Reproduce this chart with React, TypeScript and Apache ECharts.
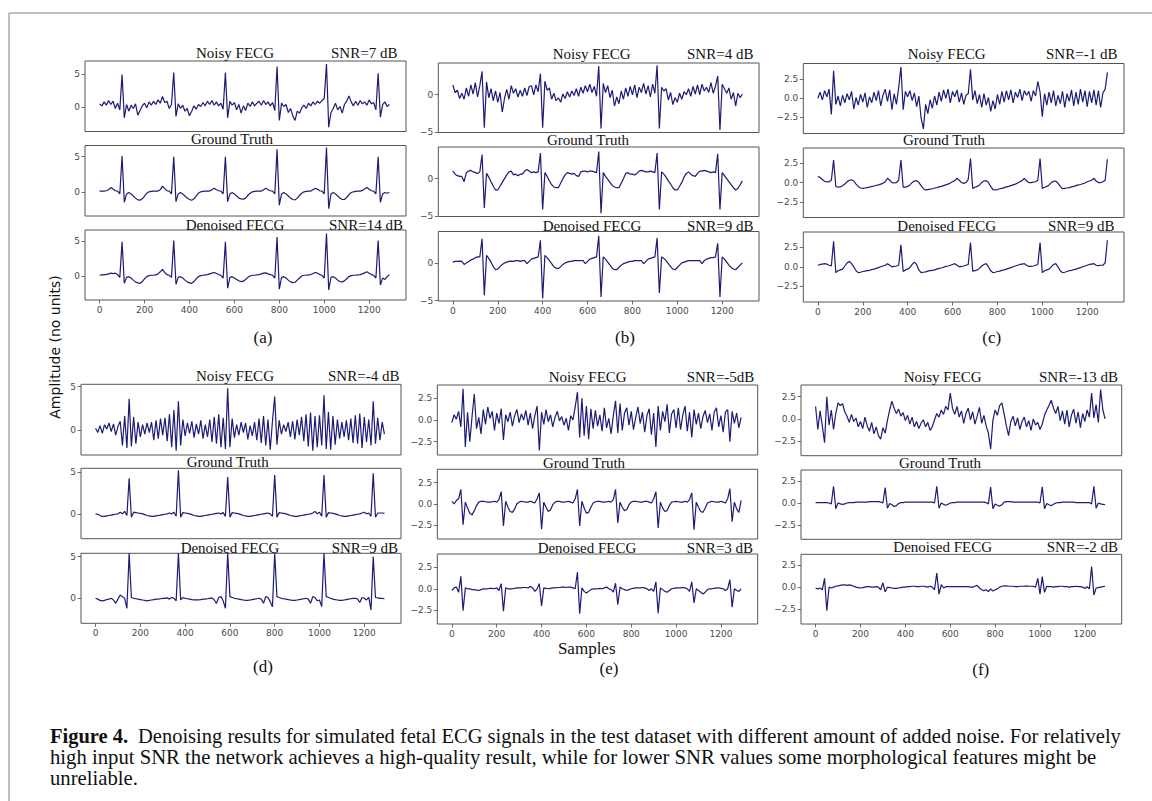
import React, { useEffect, useRef } from "react";
import * as echarts from "echarts";

// sample spacing of the stored values (samples 0,10,20,...)
const X_STEP = 10;
const X_TICKS = [0, 200, 400, 600, 800, 1000, 1200];
const X_MIN = -65;
const X_MAX = 1364;

// ---------- (a) ----------
const aNoisy = [0.5,0.2,0.8,0.3,1.0,0.4,0.9,-0.2,0.6,-0.4,4.9,-1.6,0.4,-0.6,0.3,-0.2,0.5,-1.2,-0.5,0.2,0.6,-0.1,0.8,0.3,0.9,0.4,1.1,0.6,1.6,0.7,0.9,-0.2,0.4,5.2,-1.4,0.5,-0.2,0.3,-0.6,-0.2,-1.3,-0.6,0.2,-0.3,0.4,0.1,0.7,0.2,0.9,0.4,1.0,0.3,0.8,0.2,0.6,-0.3,5.2,-1.6,0.9,0.3,0.7,-0.4,0.4,-0.9,0.2,-0.5,0.6,0.1,0.8,0.2,0.6,0.9,0.3,1.0,0.4,0.8,0.2,0.7,-0.5,6.1,-2.0,0.6,0.1,0.4,-0.8,-0.2,-1.3,-2.0,-0.6,-0.9,-0.1,0.3,-0.2,0.6,0.2,0.8,0.4,0.9,0.6,1.0,1.3,6.5,-3.0,-0.8,-0.2,0.6,-0.4,0.1,-0.9,0.4,0.9,1.7,0.8,0.2,0.9,0.3,1.0,0.5,0.8,0.3,1.1,0.5,0.7,-0.4,5.1,-1.5,0.4,0.8,0.1,0.4];
const aTruth = [0.1,0.1,0.1,0.15,0.3,0.6,0.4,0.15,0.1,-0.3,5.1,-1.5,-0.3,-0.1,-0.3,-0.6,-0.9,-1.15,-1.2,-1.0,-0.6,-0.2,0.0,0.05,0.1,0.1,0.1,0.3,0.8,0.45,0.15,0.1,-0.3,5.0,-1.4,-0.3,-0.1,-0.3,-0.6,-0.9,-1.1,-1.2,-1.0,-0.6,-0.2,0.0,0.05,0.1,0.1,0.1,0.3,0.5,0.3,0.15,0.1,-0.3,5.0,-1.4,-0.3,-0.1,-0.3,-0.6,-0.9,-1.0,-1.05,-0.9,-0.5,-0.2,0.0,0.05,0.1,0.1,0.1,0.3,0.5,0.3,0.15,0.1,-0.3,6.05,-1.9,-0.3,-0.1,-0.3,-0.6,-0.9,-1.1,-1.15,-0.9,-0.5,-0.2,0.0,0.05,0.1,0.1,0.3,0.5,0.35,0.15,0.1,-0.3,6.3,-2.4,-0.3,-0.1,-0.3,-0.6,-0.9,-1.1,-1.1,-0.8,-0.4,-0.1,0.0,0.05,0.1,0.1,0.2,0.4,0.6,0.35,0.15,0.1,-0.3,5.0,-1.5,-0.3,-0.1,-0.2,-0.1];
const aDenoised = [0.1,0.15,0.2,0.2,0.3,0.4,0.35,0.4,0.2,-0.2,4.9,-1.05,-0.2,-0.1,-0.3,-0.6,-0.85,-1.0,-1.05,-0.8,-0.4,-0.1,0.05,0.1,0.1,0.15,0.3,0.6,0.95,0.5,0.2,0.1,-0.2,5.1,-1.2,-0.2,-0.1,-0.3,-0.6,-0.85,-1.0,-1.05,-0.8,-0.4,-0.1,0.05,0.1,0.15,0.2,0.3,0.4,0.5,0.35,0.2,0.1,-0.3,4.9,-1.75,-0.2,-0.1,-0.3,-0.5,-0.7,-0.8,-0.75,-0.5,-0.2,0.0,0.1,0.1,0.15,0.2,0.3,0.4,0.45,0.3,0.2,0.1,-0.3,5.6,-1.9,-0.2,-0.1,-0.3,-0.6,-0.85,-0.95,-0.9,-0.6,-0.3,0.0,0.1,0.1,0.15,0.2,0.35,0.5,0.4,0.2,0.1,-0.3,6.1,-2.0,-0.2,-0.1,-0.3,-0.6,-0.8,-0.85,-0.7,-0.4,-0.1,0.05,0.1,0.1,0.15,0.2,0.3,0.45,0.6,0.4,0.2,0.1,-0.3,5.1,-1.3,-0.3,-0.5,-0.1,0.2];

// ---------- (b) ----------
const bNoisy = [1.3,0.3,0.6,-0.5,0.2,-0.6,0.9,-0.2,1.3,0.1,1.6,-0.3,1.2,3.1,-4.4,1.7,-0.4,0.8,-0.8,0.5,-1.0,0.3,-2.3,-0.5,0.7,-0.6,1.2,0.2,0.8,-0.3,0.6,-0.2,0.9,-0.1,1.1,1.2,0.0,1.3,0.4,2.8,-4.4,1.8,0.6,0.9,-0.6,0.2,-0.8,-0.4,-1.0,0.1,-0.5,0.4,-0.3,0.5,-0.1,0.8,-0.2,1.0,0.2,1.2,0.4,1.4,0.3,1.1,-0.2,3.8,-4.5,1.5,0.3,1.2,-0.4,0.6,-1.5,-0.3,-1.2,0.5,-0.6,0.9,-0.2,1.1,0.0,1.3,-0.4,1.0,0.3,1.5,0.1,1.2,-0.3,1.4,0.2,3.9,-4.5,1.0,0.5,0.8,-0.7,0.3,-1.3,-0.4,-1.0,0.2,-0.6,0.4,0.0,0.8,-0.2,1.1,0.1,1.3,0.0,1.4,0.5,1.0,0.3,1.6,0.2,1.1,2.5,-4.7,1.4,0.8,0.2,0.9,-0.6,0.3,-1.5,0.2,-0.4,0.1];
const bTruth = [1.0,0.6,0.4,0.3,0.3,-0.4,0.8,1.0,1.1,0.9,0.8,0.7,0.9,3.2,-3.9,0.7,0.2,-0.4,-1.0,-1.5,-1.5,-1.0,-0.5,0.0,0.5,0.9,1.0,0.5,0.6,0.4,0.6,0.6,1.0,1.2,1.0,0.8,0.9,0.8,0.9,3.4,-4.1,0.8,0.3,-0.3,-0.8,-1.1,-1.2,-1.2,-0.6,0.0,0.5,0.8,0.7,0.6,0.7,0.4,0.3,0.9,1.0,1.0,0.9,1.0,1.0,0.9,0.8,3.6,-4.6,0.8,0.3,-0.1,-0.5,-0.9,-1.1,-1.2,-1.2,-0.6,0.0,0.7,0.8,0.6,0.6,0.5,0.7,1.0,1.1,1.0,0.9,0.9,1.0,0.9,0.8,3.4,-4.1,0.9,0.6,0.2,-0.3,-0.7,-1.2,-1.5,-1.5,-1.0,-0.5,0.2,0.7,0.9,0.6,0.4,0.3,0.7,1.0,1.0,1.1,1.0,0.9,0.8,0.9,0.8,3.3,-4.1,0.8,0.4,0.0,-0.4,-0.8,-1.2,-1.5,-1.3,-0.8,-0.3];
const bDenoised = [0.1,0.2,0.2,0.25,0.2,-0.2,0.0,0.2,0.4,0.5,0.7,0.8,0.8,3.2,-4.3,1.0,0.6,0.1,-0.5,-0.9,-0.8,-0.5,-0.2,0.0,0.1,0.2,0.25,0.2,0.3,0.3,0.2,0.3,0.3,-0.1,0.2,0.5,0.6,0.7,0.8,3.0,-4.7,1.0,0.7,0.3,-0.1,-0.5,-0.7,-0.75,-0.5,-0.2,0.0,0.1,0.2,0.2,0.3,0.3,0.3,0.3,0.3,-0.1,0.2,0.5,0.6,0.7,0.8,3.6,-4.5,0.8,0.5,0.1,-0.3,-0.7,-0.9,-0.9,-0.6,-0.3,-0.1,0.0,0.1,0.2,0.2,0.3,0.3,0.3,0.3,-0.1,0.2,0.5,0.6,0.7,0.8,3.3,-4.0,0.8,0.6,0.3,-0.1,-0.5,-0.8,-0.9,-0.6,-0.3,0.0,0.1,0.2,0.3,0.3,0.3,0.3,0.3,0.3,-0.1,0.3,0.5,0.6,0.7,0.7,0.8,2.6,-4.5,0.8,0.5,0.1,-0.3,-0.6,-0.8,-0.9,-0.6,-0.3,0.0];

// ---------- (c) ----------
const cNoisy = [0.0,0.8,-0.2,1.0,0.2,1.2,-2.1,3.6,-0.8,0.3,-1.0,0.4,-0.6,0.6,-0.2,0.9,-1.4,0.1,-0.9,0.5,-0.5,0.7,-1.2,0.2,-0.6,0.8,-0.3,1.0,-1.0,0.4,1.2,-0.4,1.1,-1.5,0.6,-0.8,1.4,4.1,-1.5,0.9,0.2,1.0,-0.3,0.7,-1.1,0.3,-2.6,-4.0,-0.8,-2.0,-0.2,-1.3,0.3,-0.9,0.8,-0.4,1.1,0.0,1.2,-0.6,0.9,0.2,1.1,-0.5,0.7,-0.8,0.4,0.6,3.8,-0.2,1.0,-0.7,0.5,-1.2,0.6,-0.9,0.1,-1.7,-0.3,-1.4,0.5,-0.8,0.9,-0.5,1.0,-0.2,1.1,-0.6,0.8,0.1,1.2,-0.3,1.0,0.4,0.9,-0.4,1.0,0.3,2.2,0.8,-2.4,0.6,-0.9,0.8,-0.6,1.0,-1.0,0.4,-0.7,0.9,-1.2,0.6,-0.4,1.1,-1.0,0.8,-0.8,1.2,-0.5,1.0,-1.1,0.9,-0.6,1.1,-0.9,1.0,-1.2,0.7,1.2,3.4];
const cTruth = [0.8,0.65,0.4,0.15,0.1,0.1,0.3,2.9,-0.5,-0.6,-0.55,-0.4,-0.2,0.1,0.3,0.35,0.2,-0.2,-0.5,-0.7,-0.75,-0.7,-0.65,-0.6,-0.5,-0.45,-0.35,-0.3,-0.2,-0.1,0.1,0.55,0.3,0.0,-0.05,0.0,0.3,2.9,-0.6,-0.6,-0.5,-0.3,0.0,0.2,0.25,0.0,-0.4,-0.8,-0.95,-0.9,-0.85,-0.8,-0.7,-0.65,-0.55,-0.5,-0.4,-0.3,-0.2,-0.05,0.1,0.25,0.55,0.3,0.0,-0.1,0.0,0.4,3.1,-0.75,-0.6,-0.5,-0.3,0.0,0.2,0.25,0.0,-0.5,-0.9,-0.95,-0.9,-0.8,-0.75,-0.65,-0.55,-0.5,-0.4,-0.3,-0.2,-0.05,0.1,0.25,0.55,0.2,0.0,0.0,0.05,0.1,0.3,3.1,-0.75,-0.6,-0.5,-0.3,0.0,0.15,0.2,-0.1,-0.5,-0.8,-0.75,-0.7,-0.65,-0.55,-0.5,-0.4,-0.3,-0.25,-0.15,-0.05,0.1,0.2,0.3,0.55,0.2,0.0,0.0,0.1,0.3,3.0];
const cDenoised = [0.2,0.3,0.35,0.4,0.35,0.2,0.1,3.25,-0.75,-0.5,-0.4,-0.3,0.1,0.5,0.7,0.4,0.0,-0.5,-0.75,-0.7,-0.6,-0.55,-0.5,-0.45,-0.35,-0.3,-0.2,-0.1,0.0,0.1,0.2,0.4,0.2,0.0,0.05,0.1,0.2,2.8,-0.6,-0.4,-0.3,-0.1,0.3,0.6,0.3,-0.4,-0.75,-0.7,-0.65,-0.55,-0.5,-0.45,-0.4,-0.3,-0.2,-0.15,-0.05,0.05,0.1,0.2,0.3,0.4,0.2,0.0,0.05,0.1,0.2,0.3,3.1,-0.55,-0.5,-0.4,-0.2,0.1,0.3,0.4,0.0,-0.5,-0.75,-0.7,-0.6,-0.55,-0.45,-0.4,-0.3,-0.2,-0.1,0.0,0.1,0.2,0.3,0.35,0.4,0.2,0.05,0.05,0.1,0.2,0.3,3.1,-0.75,-0.5,-0.4,-0.3,0.0,0.3,0.4,0.0,-0.5,-0.75,-0.7,-0.6,-0.5,-0.45,-0.35,-0.3,-0.2,-0.1,0.0,0.1,0.2,0.3,0.35,0.4,0.2,0.15,0.2,0.2,0.5,3.4];

// ---------- (d) ----------
const dNoisy = [0.2,-0.3,0.5,-0.4,0.6,0.1,0.8,-0.2,0.7,-0.6,0.4,1.0,-1.8,1.6,-2.1,3.6,-1.9,1.5,-1.6,0.9,-0.8,0.6,-0.5,0.8,-0.3,0.9,-1.2,1.1,-1.0,1.3,-0.6,1.4,-1.3,1.8,-2.0,2.3,-2.4,3.3,-1.8,1.2,-0.7,0.8,-0.4,1.0,-0.9,0.7,-0.5,1.1,-1.0,0.6,-0.8,1.2,-1.4,1.5,-1.6,1.8,-2.0,1.4,-2.2,4.8,-2.0,1.3,-0.9,0.6,-0.6,0.9,-0.3,0.8,-1.1,0.5,-0.7,0.9,-1.2,1.3,-1.5,1.6,-1.8,1.2,-2.3,1.0,3.85,-1.7,1.1,-0.5,0.6,-0.2,0.9,-0.8,1.0,-1.1,1.2,-0.6,1.5,-1.3,1.8,-1.9,2.0,-2.4,1.6,-2.0,1.7,-1.8,4.0,-2.2,2.1,-2.3,1.6,-1.7,1.2,-1.0,0.9,-0.8,1.1,-1.2,1.3,-1.5,1.7,-1.6,1.9,-2.1,1.5,-1.4,1.2,-1.8,3.3,-1.6,1.4,-1.2,0.9,-0.5];
const dTruth = [0.0,-0.05,-0.2,-0.3,-0.3,-0.25,-0.2,-0.15,-0.1,-0.05,0.0,0.2,0.0,0.3,-0.2,4.3,-0.4,0.2,0.15,0.1,0.05,0.0,-0.1,-0.2,-0.25,-0.3,-0.3,-0.25,-0.2,-0.15,-0.1,-0.05,0.0,0.1,0.0,0.2,-0.3,5.25,-0.4,0.15,0.1,0.05,0.0,-0.1,-0.2,-0.25,-0.3,-0.3,-0.25,-0.2,-0.15,-0.1,-0.05,0.0,0.05,0.1,0.0,0.15,-0.3,4.45,-0.4,0.15,0.1,0.05,0.0,-0.1,-0.2,-0.25,-0.3,-0.3,-0.25,-0.2,-0.15,-0.1,-0.05,0.0,0.05,0.1,0.0,-0.3,4.7,-0.4,0.15,0.1,0.05,0.0,-0.1,-0.2,-0.25,-0.3,-0.3,-0.25,-0.2,-0.15,-0.1,-0.05,0.0,0.1,0.3,0.0,0.2,-0.3,4.7,-0.4,0.15,0.1,0.05,0.0,-0.1,-0.2,-0.25,-0.3,-0.3,-0.25,-0.2,-0.15,-0.1,-0.05,0.0,0.1,0.2,0.0,0.1,-0.3,4.9,-0.4,0.1,0.1,0.1,0.05];
const dDenoised = [0.0,-0.1,-0.25,-0.3,-0.25,-0.15,-0.1,0.0,-0.2,-0.6,-0.1,0.4,0.2,0.0,-1.2,5.4,0.1,0.0,-0.05,-0.1,-0.15,-0.2,-0.25,-0.3,-0.25,-0.2,-0.15,-0.1,-0.1,-0.05,0.0,0.0,0.05,-0.1,0.1,0.0,-0.3,5.4,-0.2,0.1,0.0,-0.05,-0.1,-0.15,-0.2,-0.2,-0.2,-0.15,-0.1,-0.1,-0.05,0.0,0.05,-0.2,-0.6,0.1,0.2,-0.3,-1.2,5.4,0.2,0.1,0.0,-0.05,-0.1,-0.15,-0.2,-0.25,-0.25,-0.2,-0.15,-0.1,-0.05,0.0,-0.1,-0.6,0.2,0.1,-0.4,-1.0,5.4,0.2,0.1,0.0,-0.05,-0.1,-0.15,-0.2,-0.25,-0.25,-0.2,-0.15,-0.1,-0.05,0.0,-0.1,-0.6,0.2,0.1,-0.3,-0.2,-1.0,5.4,0.2,0.1,0.0,-0.1,-0.15,-0.2,-0.25,-0.25,-0.2,-0.15,-0.1,-0.05,0.0,0.0,-0.1,-0.5,0.1,0.0,-0.2,0.1,-1.4,5.0,0.1,0.05,0.0,0.0,-0.05];

// ---------- (e) ----------
const eNoisy = [-0.3,0.6,0.1,1.0,-0.8,3.6,-3.1,0.9,-2.5,0.4,3.0,-1.0,0.3,-1.6,1.2,-0.5,1.5,0.2,1.0,-1.2,0.8,-0.4,1.3,-2.3,0.6,-0.2,0.9,-0.7,0.5,1.2,-0.3,0.7,0.0,1.1,-0.6,0.8,-1.0,0.5,1.6,-3.5,0.9,-0.5,1.2,-0.2,0.6,-0.8,0.3,1.0,-0.1,0.4,-0.6,0.2,-1.2,0.5,0.0,1.5,3.2,-2.0,2.5,-1.8,1.6,-2.2,1.3,-1.0,1.1,-0.7,0.6,-1.3,1.4,-0.9,0.2,-1.6,0.5,2.2,-1.5,1.9,-1.2,0.8,1.4,-0.6,1.0,-1.1,0.3,1.5,-0.4,0.9,-1.4,0.5,1.3,-1.7,0.8,-3.1,1.6,-1.2,1.0,-0.2,1.8,-1.5,0.7,1.2,-0.9,1.4,-1.1,0.6,1.6,-1.3,0.9,-2.0,1.2,-0.5,0.8,-1.0,0.4,1.1,-0.3,0.7,-1.2,0.9,1.4,-0.8,0.5,-1.4,0.9,1.2,-2.5,1.0,-0.4,0.8,-0.9,0.3];
const eTruth = [0.3,0.0,0.4,0.6,1.7,-2.45,0.2,-0.5,-1.1,-1.3,-0.8,-0.2,0.2,0.3,0.3,0.25,0.2,0.2,0.25,0.3,0.2,0.5,1.45,-2.6,0.3,-0.4,-0.9,-1.0,-0.6,0.0,0.2,0.3,0.25,0.2,0.2,0.3,0.2,0.1,0.6,1.3,-3.0,0.2,-0.4,-0.9,-0.7,-0.1,0.2,0.3,0.3,0.2,0.2,0.25,0.3,0.2,0.1,0.6,1.7,-2.6,0.3,-0.5,-1.1,-1.0,-0.4,0.1,0.25,0.3,0.3,0.2,0.2,0.25,0.3,0.2,0.5,1.7,-2.25,0.2,-0.4,-0.8,-0.7,-0.1,0.2,0.3,0.3,0.25,0.2,0.2,0.3,0.3,0.2,0.1,0.6,1.45,-2.85,0.2,-0.5,-0.9,-0.8,-0.2,0.2,0.25,0.3,0.25,0.2,0.2,0.3,0.2,0.5,1.3,-3.05,0.2,-0.4,-0.9,-1.0,-0.5,0.1,0.2,0.3,0.25,0.2,0.2,0.3,0.2,0.1,0.6,1.8,-2.1,0.2,-0.6,-1.0,0.4];
const eDenoised = [-0.2,0.1,0.2,-0.4,1.45,-2.55,0.1,0.0,0.0,-0.1,-0.1,-0.15,-0.2,-0.1,0.0,0.0,0.0,0.05,0.05,0.0,0.1,-0.2,0.6,-2.6,0.1,0.0,0.0,0.0,0.05,0.1,0.1,0.1,0.15,0.15,0.1,0.3,0.1,-0.3,0.0,0.6,-2.0,0.1,0.05,0.0,0.05,0.1,0.1,0.15,0.15,0.2,0.2,0.15,0.2,0.2,0.1,0.0,1.95,-2.9,0.1,-0.3,-0.5,-0.3,-0.1,0.0,0.0,0.0,0.05,0.0,0.1,0.2,0.0,-0.1,-0.4,0.65,-1.85,0.2,0.0,-0.1,-0.2,-0.1,0.0,0.05,0.1,0.1,0.1,0.15,0.1,0.0,-0.2,0.0,-0.3,0.8,-2.85,0.1,-0.1,-0.3,-0.4,-0.2,0.0,0.05,0.1,0.1,0.1,0.15,0.1,0.0,-0.3,0.8,-1.65,0.0,-0.2,-0.4,-0.6,-0.4,-0.1,0.0,0.0,0.05,0.1,0.1,0.05,0.0,-0.2,0.0,1.05,-2.15,0.0,-0.2,-0.3,0.0];

// ---------- (f) ----------
const fNoisy = [1.4,-1.2,0.9,-0.8,-2.7,2.5,-0.7,1.0,-1.2,0.6,1.8,1.5,1.7,0.8,0.3,-0.4,0.5,-0.3,0.1,-0.9,-0.3,-1.1,0.2,-0.8,-1.4,-0.4,-1.7,-0.9,-1.9,-2.3,-1.0,-1.6,-0.2,1.0,2.0,1.2,0.6,1.1,0.3,0.7,-0.2,0.4,-0.6,0.2,-0.9,-0.3,-1.1,-0.5,-0.1,-0.9,-0.4,-1.3,-0.9,-0.1,0.6,0.2,1.0,0.5,1.4,1.0,2.9,1.2,0.5,1.4,0.2,0.9,-0.5,0.6,1.2,-0.1,0.8,-0.6,0.3,1.3,-0.5,0.4,-0.8,-1.6,-3.4,-0.2,1.0,0.4,1.5,1.8,0.6,-0.8,-1.9,-0.3,0.3,-0.8,0.1,-1.2,-0.3,0.2,-0.9,-0.2,-1.3,0.0,-0.7,-0.4,-1.2,-0.6,0.4,1.0,1.5,2.1,1.2,0.6,1.4,-0.2,0.9,-0.6,1.0,-0.9,0.4,1.1,-0.5,0.8,-1.0,0.6,-0.3,1.0,0.2,2.9,0.1,1.6,-0.4,3.3,1.0,0.0];
const fTruth = [0.05,0.05,0.05,0.05,0.05,0.05,0.0,-0.1,1.9,-0.65,0.0,-0.1,-0.15,-0.1,0.0,0.05,0.05,0.05,0.1,0.1,0.1,0.1,0.1,0.1,0.15,0.15,0.15,0.15,0.15,0.1,0.0,1.75,-0.6,-0.05,-0.2,-0.4,-0.3,-0.05,0.05,0.05,0.1,0.1,0.1,0.1,0.1,0.1,0.1,0.1,0.1,0.1,0.1,0.1,0.1,0.0,1.9,-0.6,0.0,-0.15,-0.25,-0.15,0.0,0.05,0.05,0.1,0.1,0.1,0.1,0.1,0.1,0.1,0.1,0.1,0.1,0.1,0.1,0.1,0.05,-0.1,1.8,-0.65,-0.1,-0.25,-0.35,-0.2,0.1,0.15,0.15,0.15,0.1,0.1,0.1,0.1,0.1,0.1,0.1,0.1,0.1,0.1,0.1,0.1,0.0,1.85,-0.65,-0.05,-0.2,-0.3,-0.15,0.0,0.05,0.05,0.1,0.1,0.1,0.1,0.1,0.1,0.05,0.05,0.05,0.05,0.05,0.05,0.05,-0.1,1.9,-0.6,0.0,-0.1,-0.15,-0.2];
const fDenoised = [-0.15,-0.2,-0.1,-0.3,1.0,-2.7,0.0,-0.1,0.0,0.1,0.15,0.2,0.25,0.25,0.2,0.25,0.2,0.1,0.0,-0.05,-0.1,-0.05,0.0,0.05,0.05,0.0,0.0,0.05,0.0,-0.3,0.5,-0.55,0.0,-0.05,-0.1,-0.15,-0.15,-0.1,-0.05,0.0,0.0,0.05,0.05,0.1,0.1,0.05,0.05,0.1,0.1,0.05,0.0,0.1,0.0,-0.3,1.6,-0.8,0.3,-0.1,0.05,0.05,0.05,0.05,0.05,0.05,0.05,0.05,0.05,0.05,0.05,0.0,0.0,0.1,0.2,-0.1,-0.3,-0.4,-0.3,-0.5,-0.2,-0.45,-0.3,-0.2,0.0,0.1,0.15,0.15,0.1,0.1,0.1,0.05,0.05,0.1,0.1,0.1,0.15,0.1,0.1,0.1,0.0,1.0,-0.8,1.2,-0.6,0.1,0.05,0.05,0.0,0.05,0.05,0.1,0.1,0.05,0.05,0.0,0.05,0.05,0.1,0.05,0.05,0.0,-0.15,0.05,-0.2,2.35,-0.9,-0.1,-0.05,0.0,0.05,0.1];

const Y_TICKS_AB = [0, 5];
const Y_TICKS_B = [-5, 0];
const Y_TICKS_C = [-2.5, 0, 2.5];

const SUB_TITLES = ["Noisy FECG", "Ground Truth", "Denoised FECG"];
const PANEL_LABELS = ["(a)", "(b)", "(c)", "(d)", "(e)", "(f)"];
const SNR_NOISY = ["SNR=7 dB", "SNR=4 dB", "SNR=-1 dB", "SNR=-4 dB", "SNR=-5dB", "SNR=-13 dB"];
const SNR_DENOISED = ["SNR=14 dB", "SNR=9 dB", "SNR=9 dB", "SNR=9 dB", "SNR=3 dB", "SNR=-2 dB"];

const CAPTION_1 = "Denoising results for simulated fetal ECG signals in the test dataset with different amount of added noise. For relatively";
const CAPTION_2 = "high input SNR the network achieves a high-quality result, while for lower SNR values some morphological features might be";
const CAPTION_3 = "unreliable.";

// layout of each panel (pixel boxes)
const PANELS = [
  { series: [aNoisy, aTruth, aDenoised], left: 85, right: 406,
    boxes: [[61, 131.5], [145.5, 216], [230, 300]],
    ylims: [[-3.66, 6.95], [-3.45, 6.6], [-3.45, 6.6]], yTicks: Y_TICKS_AB, dec: 0,
    titleX: [235, 232, 235], titleY: [53, 139, 225], snrX: [331, 329], label: [263, 337] },
  { series: [bNoisy, bTruth, bDenoised], left: 438.3, right: 759,
    boxes: [[63, 132.5], [147, 216.5], [231.5, 301]],
    ylims: [[-5.02, 4.22], [-5.02, 4.2], [-5.05, 4.17]], yTicks: Y_TICKS_B, dec: 0,
    titleX: [591.7, 588, 592], titleY: [54, 140, 226], snrX: [687, 687], label: [625, 337] },
  { series: [cNoisy, cTruth, cDenoised], left: 803.3, right: 1124,
    boxes: [[63.5, 133.5], [148, 217.5], [232, 302]],
    ylims: [[-4.6, 4.55], [-4.5, 4.45], [-4.5, 4.45]], yTicks: Y_TICKS_C, dec: 1,
    titleX: [946.7, 944, 946.7], titleY: [54, 140, 226], snrX: [1046, 1048], label: [991.7, 337] },
  { series: [dNoisy, dTruth, dDenoised], left: 81, right: 401,
    boxes: [[384.3, 455], [468.3, 538.7], [553.3, 623.3]],
    ylims: [[-2.9, 5.27], [-3.0, 5.5], [-3.0, 5.4]], yTicks: Y_TICKS_AB, dec: 0,
    titleX: [235, 227.7, 230], titleY: [376, 461.5, 547.5], snrX: [328, 331.7], label: [263, 666] },
  { series: [eNoisy, eTruth, eDenoised], left: 437.3, right: 757.7,
    boxes: [[385, 455], [469.3, 539], [554, 624]],
    ylims: [[-4.03, 4.03], [-4.15, 4.08], [-4.1, 4.05]], yTicks: Y_TICKS_C, dec: 1,
    titleX: [587.7, 584, 587], titleY: [376.7, 462.7, 548], snrX: [686.7, 686.7], label: [609, 668] },
  { series: [fNoisy, fTruth, fDenoised], left: 801, right: 1121.7,
    boxes: [[385, 455.7], [470, 539.3], [554.3, 624]],
    ylims: [[-4.16, 3.82], [-4.12, 3.75], [-4.22, 3.76]], yTicks: Y_TICKS_C, dec: 1,
    titleX: [942.7, 940, 942.7], titleY: [376.7, 462.7, 547.3], snrX: [1039, 1046.7], label: [980.7, 669] },
];

const LINE_COLOR = "#1c1c76";
const TICK_COLOR = "#4a4a4a";
const SERIF = '"Liberation Serif", "Times New Roman", serif';
const SANS = '"DejaVu Sans", sans-serif';

function fmtTick(v: number, dec: number): string {
  const s = dec ? v.toFixed(1) : String(Math.round(v));
  return s.replace("-", "\u2212");
}

function buildOption() {
  const grid: any[] = [];
  const xAxis: any[] = [];
  const yAxis: any[] = [];
  const series: any[] = [];
  const graphic: any[] = [];

  const text = (x: number, y: number, t: string, size: number, align = "center", family = SERIF, extra: any = {}, weight = "normal") => ({
    type: "text", x, y, silent: true, ...extra,
    style: { text: t, font: `${weight} ${size}px ${family}`, fill: "#111",
      textAlign: align, textVerticalAlign: "middle", align, verticalAlign: "middle" },
  });

  PANELS.forEach((p, pi) => {
    p.series.forEach((vals, si) => {
      const idx = grid.length;
      const [top, bottom] = p.boxes[si];
      const showX = si === 2;
      grid.push({ left: p.left, top, width: p.right - p.left, height: bottom - top,
        show: true, borderColor: "#555", borderWidth: 1, backgroundColor: "transparent" });
      xAxis.push({ gridIndex: idx, type: "value", min: X_MIN, max: X_MAX, position: "bottom",
        axisLine: { show: false, onZero: false }, splitLine: { show: false },
        axisTick: { show: showX, customValues: X_TICKS, length: 3.5, lineStyle: { color: TICK_COLOR, width: 0.8 } },
        axisLabel: { show: showX, customValues: X_TICKS, fontFamily: SANS, fontSize: 9, color: TICK_COLOR, margin: 5,
          formatter: (v: number) => String(v) } });
      yAxis.push({ gridIndex: idx, type: "value", min: p.ylims[si][0], max: p.ylims[si][1], position: "left",
        axisLine: { show: false, onZero: false }, splitLine: { show: false },
        axisTick: { show: true, customValues: p.yTicks, length: 3.5, lineStyle: { color: TICK_COLOR, width: 0.8 } },
        axisLabel: { show: true, customValues: p.yTicks, fontFamily: SANS, fontSize: 9, color: TICK_COLOR, margin: 5,
          formatter: (v: number) => fmtTick(v, p.dec) } });
      series.push({ type: "line", xAxisIndex: idx, yAxisIndex: idx, silent: true,
        showSymbol: false, symbol: "none", clip: true,
        lineStyle: { color: LINE_COLOR, width: 1.2 },
        data: vals.map((v, i) => [i * X_STEP, v]) });
      graphic.push(text(p.titleX[si], p.titleY[si], SUB_TITLES[si], 15));
    });
    graphic.push(text(p.snrX[0], p.titleY[0], SNR_NOISY[pi], 15, "left"));
    graphic.push(text(p.snrX[1], p.titleY[2], SNR_DENOISED[pi], 15, "left"));
    graphic.push(text(p.label[0], p.label[1], PANEL_LABELS[pi], 17));
  });

  graphic.push(text(586.7, 648, "Samples", 17));
  graphic.push(text(55, 347, "Amplitude (no units)", 14, "center", SANS, { rotation: Math.PI / 2 }));

  // figure frame
  graphic.push({ type: "line", silent: true, shape: { x1: 9, y1: 13, x2: 1152, y2: 13 }, style: { stroke: "#a8a8a8", lineWidth: 1.5 } });
  graphic.push({ type: "line", silent: true, shape: { x1: 9, y1: 13, x2: 9, y2: 801 }, style: { stroke: "#a8a8a8", lineWidth: 1.5 } });

  // caption
  graphic.push(text(50, 736, "Figure 4.", 20.5, "left", SERIF, {}, "bold"));
  graphic.push(text(138, 736, CAPTION_1, 20.5, "left"));
  graphic.push(text(50, 757, CAPTION_2, 20.7, "left"));
  graphic.push(text(50, 778, CAPTION_3, 20.7, "left"));

  return { animation: false, backgroundColor: "#ffffff", grid, xAxis, yAxis, series, graphic };
}

export default function App() {
  const ref = useRef<HTMLDivElement>(null);
  useEffect(() => {
    if (!ref.current) return;
    const chart = echarts.init(ref.current, undefined, { renderer: "svg" });
    chart.setOption(buildOption() as any);
    return () => chart.dispose();
  }, []);
  return (
    <div ref={ref}
      style={{ position: "fixed", left: 0, top: 0, width: 1152, height: 801, background: "#fff" }} />
  );
}
